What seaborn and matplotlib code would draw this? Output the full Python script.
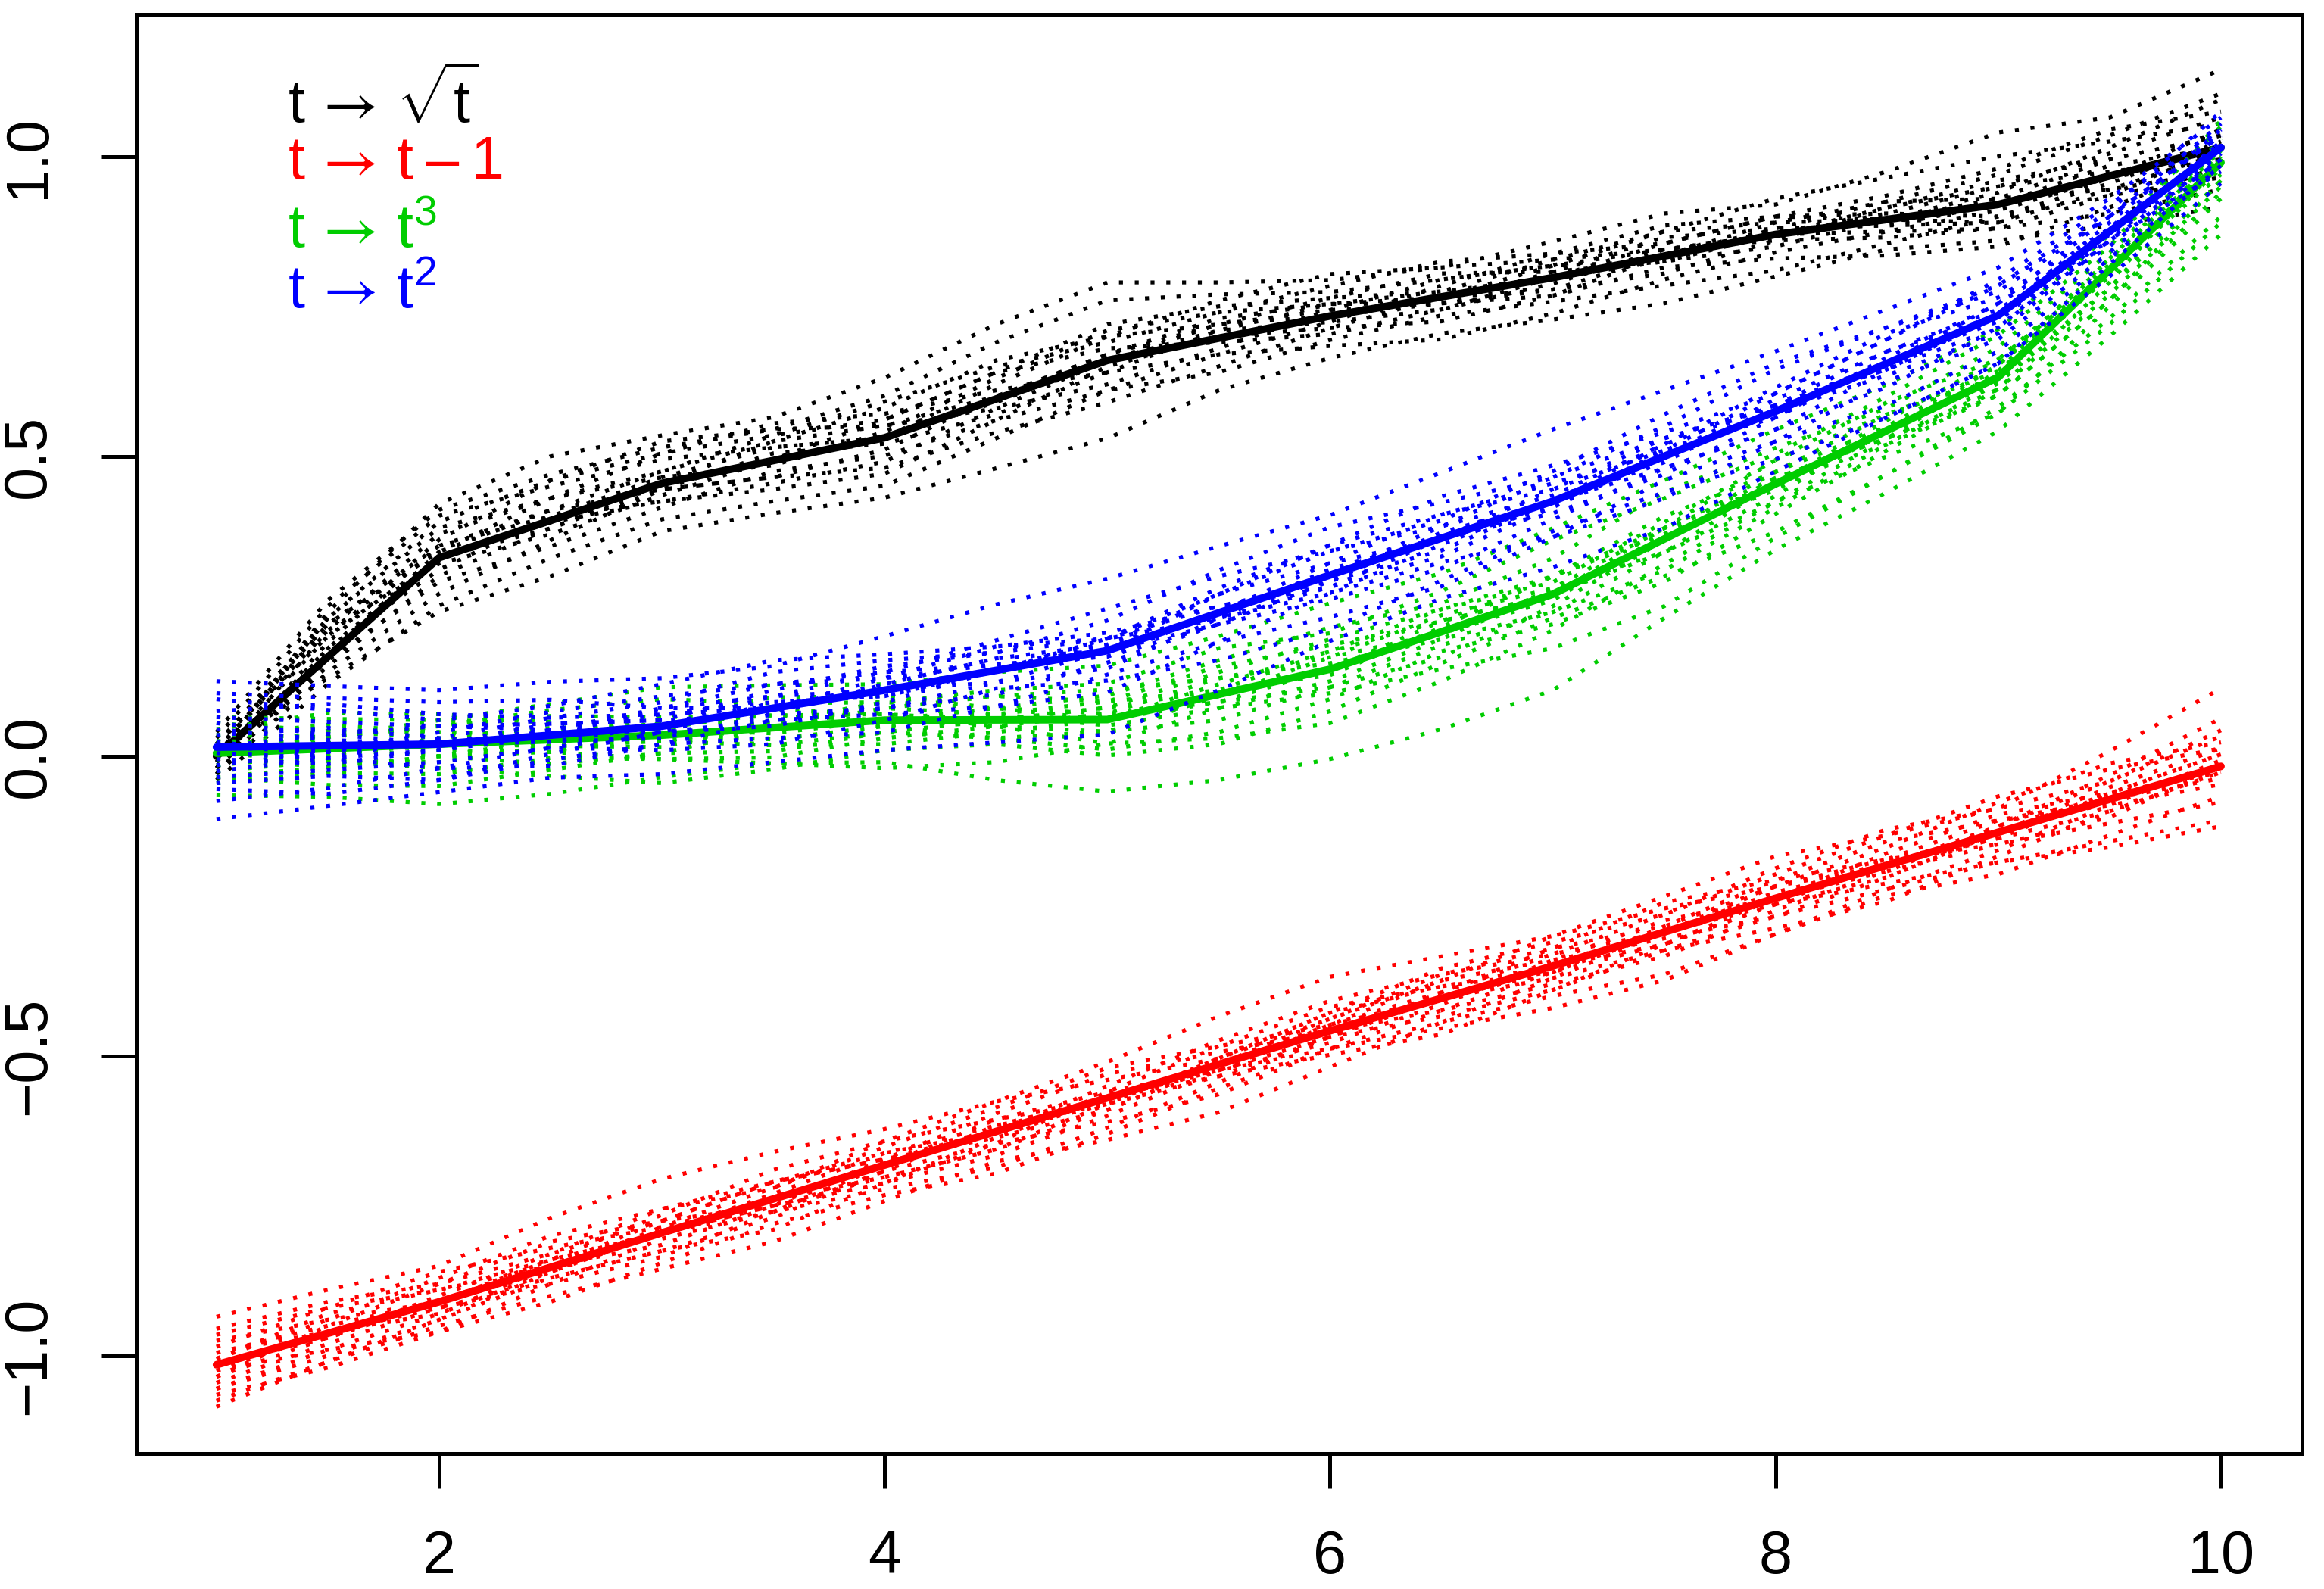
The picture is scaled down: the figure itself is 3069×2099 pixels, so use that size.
import numpy as np
import pandas as pd
import matplotlib
matplotlib.use("Agg")
import matplotlib.pyplot as plt
import seaborn as sns

# ---------------- data ----------------
t = [1, 2, 3, 4, 5, 6, 7, 8, 9, 10]
t_half = [1, 1.5, 2, 2.5, 3, 3.5, 4, 4.5, 5, 5.5, 6, 6.5, 7, 7.5, 8, 8.5, 9, 9.5, 10]

mean_sqrt = [0.0, 0.331, 0.455, 0.531, 0.66, 0.734, 0.798, 0.87, 0.92, 1.015]
mean_lin = [-1.015, -0.91, -0.795, -0.682, -0.57, -0.458, -0.35, -0.237, -0.127, -0.017]
mean_cube = [0.005, 0.02, 0.035, 0.06, 0.061, 0.145, 0.27, 0.454, 0.632, 0.99]
mean_sq = [0.015, 0.02, 0.05, 0.11, 0.176, 0.302, 0.425, 0.575, 0.735, 1.015]

# centre of each dotted band at half steps
band_sqrt = [0, .19, .331, .40, .455, .495, .531, .60, .66, .70, .734, .765, .798, .835, .87, .895, .92, .965, 1.015]
band_lin = [-1.015, -.96, -.91, -.85, -.795, -.74, -.682, -.626, -.57, -.514, -.458, -.404, -.35, -.294, -.237, -.182, -.127, -.072, -.017]
band_cube = [.005, .012, .02, .027, .035, .048, .06, .06, .061, .10, .145, .205, .27, .36, .454, .54, .632, .80, .99]
band_sq = [.015, .017, .02, .034, .05, .08, .11, .143, .176, .24, .302, .363, .425, .50, .575, .655, .735, .87, 1.015]

# deviations of the individual dotted curves from the band centre (hundredths)
dev_sqrt = [
    [0, 5, 9, 10, 8, 7, 10, 12, 13, 9, 6, 5, 6, 7, 5, 8, 12, 10, 13],
    [1, -6, -9, -10, -8, -9, -10, -12, -13, -9, -7, -6, -7, -8, -7, -5, -6, -8, -10],
    [2, 4, 5, 3, 2, 4, 6, 5, 3, 4, 5, 6, 4, 2, 3, 4, 6, 8, 6],
    [-2, -3, -4, -5, -4, -2, -3, -4, -5, -6, -4, -3, -4, -5, -6, -4, -2, -3, -5],
    [3, 6, 7, 5, 4, 2, 0, 2, 4, 6, 7, 5, 3, 1, 0, 2, 4, 3, 2],
    [-1, 2, -1, -3, -2, 0, 3, 4, 2, -1, -3, -2, 0, 2, 3, 1, -2, -1, 1],
    [0, -2, 1, 3, 5, 6, 4, 1, -2, -3, -1, 2, 4, 5, 3, 0, -3, 0, 3],
    [-3, -5, -6, -4, -1, 1, -1, -3, -2, 1, 2, 0, -2, -3, -1, 2, 3, 1, -2],
    [1, 3, 2, 0, -3, -5, -6, -4, -1, 0, -2, -4, -3, 0, 2, 3, 1, -2, -4],
    [4, 7, 8, 7, 6, 5, 7, 9, 10, 7, 4, 3, 2, 4, 6, 7, 8, 6, 4],
    [-2, 0, 2, 1, -1, -3, -2, 0, 1, 3, 2, -1, -3, -2, -4, -6, -7, -5, -3],
    [2, 1, 3, 6, 7, 5, 2, -2, -4, -2, 1, 3, 2, -1, -2, 0, 2, 5, 8],
    [-4, -7, -8, -7, -6, -7, -8, -7, -5, -3, -5, -7, -6, -4, -3, -2, -4, -6, -7],
    [0, 1, 0, -2, 0, 3, 2, 0, 1, 2, 0, -1, 1, 3, 1, -1, 0, 2, 0],
    [1, 2, 4, 3, 1, -1, 1, 3, 5, 4, 2, 1, 3, 4, 2, 0, 1, 3, 2],
    [-1, -1, -2, 0, 1, 2, 0, -1, 0, 2, 1, -1, -2, 0, 1, -1, -3, -2, -1],
    [2, 3, 1, 1, 2, 3, 5, 6, 4, 2, 3, 4, 1, -1, 0, 1, 3, 4, 5],
    [-3, -1, 0, -1, -3, -4, -4, -2, 0, 1, -1, -2, -1, 1, 0, -2, -1, 0, -2],
    [0, 4, 6, 6, 5, 4, 3, 4, 6, 5, 3, 1, 0, -1, 1, 3, 5, 7, 9],
    [-2, -4, -3, -2, -1, -3, -5, -6, -7, -5, -2, 0, 2, 1, -1, -3, -4, -3, 0],
]
dev_lin = [
    [8, 7, 6, 8, 9, 8, 6, 5, 6, 8, 9, 7, 5, 6, 7, 5, 4, 8, 13],
    [-6, -5, -4, -5, -6, -7, -6, -5, -7, -8, -6, -4, -5, -7, -6, -4, -5, -8, -10],
    [3, 4, 5, 3, 1, 2, 4, 5, 3, 1, 2, 4, 3, 1, 2, 3, 5, 6, 4],
    [-3, -2, -1, -3, -4, -2, -1, -2, -4, -5, -3, -2, -3, -4, -2, -1, -2, -4, -6],
    [1, 3, 2, 0, -2, -1, 1, 3, 4, 2, 0, -2, -1, 1, 3, 4, 2, 0, -2],
    [-1, -3, -2, 0, 2, 3, 1, -1, -2, 0, 2, 3, 1, -1, -3, -2, 0, 2, 3],
    [5, 4, 2, 1, 3, 5, 4, 2, 0, -1, 1, 3, 5, 4, 2, 0, 1, 3, 6],
    [-5, -6, -5, -3, -1, -2, -4, -6, -5, -3, -1, 0, -2, -3, -5, -6, -4, -2, -1],
    [2, 0, -2, -1, 1, 0, -2, -3, -1, 1, 3, 2, 0, -2, -1, 1, 2, -1, -3],
    [-2, 1, 3, 4, 2, -1, -3, -2, 1, 3, 4, 2, -1, 0, 2, 1, -2, -3, 0],
    [0, -1, 1, 2, 4, 3, 1, 0, 2, 4, 5, 4, 2, 3, 5, 6, 4, 3, 5],
    [-4, -3, -5, -6, -5, -4, -5, -7, -6, -4, -3, -5, -7, -8, -6, -5, -7, -6, -5],
    [4, 2, 0, 1, 0, -2, 0, 2, 1, -1, -2, -1, 1, 2, 0, -1, 1, 4, 8],
    [-7, -5, -3, -2, -3, -5, -3, -1, 0, -2, -4, -6, -4, -2, -1, -3, -5, -7, -9],
    [2, 1, 0, -1, 0, 1, 2, 1, -1, -2, -1, 1, 2, 0, -1, -2, 0, 1, 2],
    [-2, -1, 0, 1, 0, -1, -2, -3, -2, 0, 1, 0, -1, -2, 0, 2, 3, 1, -1],
    [6, 5, 3, 2, 2, 3, 2, 0, -1, 1, 3, 5, 4, 3, 4, 5, 6, 5, 3],
    [-4, -4, -3, -1, 0, -1, -3, -4, -3, -1, -1, -3, -4, -3, -3, -4, -3, -1, 1],
    [1, 2, 4, 5, 4, 2, 3, 4, 5, 3, 1, 1, 3, 5, 3, 1, -1, -2, -1],
    [-1, 0, -1, -2, -3, -3, -1, 1, 0, -1, -3, -4, -2, 0, 1, 0, -1, 1, 2],
]
dev_cube = [
    [6, 5, 4, 6, 8, 7, 6, 8, 9, 10, 11, 10, 11, 10, 9, 8, 8, 7, 6],
    [-7, -8, -10, -9, -7, -6, -7, -10, -12, -14, -15, -16, -16, -13, -11, -10, -9, -10, -12],
    [3, 4, 2, 1, 3, 5, 4, 2, 4, 6, 7, 5, 6, 8, 6, 4, 5, 4, 3],
    [-3, -2, -4, -6, -8, -7, -5, -4, -6, -8, -7, -5, -4, -6, -8, -7, -6, -5, -6],
    [1, 2, 4, 3, 1, -1, 0, 2, 1, -1, 0, 2, 3, 1, -1, 0, 2, 1, -1],
    [-1, -3, -2, 0, 2, 1, -1, -3, -2, 0, 2, 3, 1, -2, -3, -1, 1, 3, 2],
    [4, 6, 5, 3, 0, -2, -1, 1, 3, 5, 4, 2, 0, 2, 4, 5, 3, 1, -2],
    [-5, -4, -5, -3, -4, -6, -8, -7, -4, -2, -4, -6, -9, -11, -9, -7, -5, -7, -9],
    [2, 0, -2, -4, -3, 0, 2, 4, 5, 3, 1, -1, -3, -2, 0, 2, 3, 2, 4],
    [0, 2, 3, 5, 6, 4, 3, 5, 6, 8, 6, 7, 9, 7, 5, 6, 7, 5, 7],
    [-2, -1, 1, 2, 0, -3, -4, -2, 0, -1, -3, -4, -2, 0, 1, -1, -3, -4, -5],
    [5, 3, 1, -1, -2, 1, 3, 2, 0, 2, 3, 4, 3, 4, 2, 3, 0, -2, -3],
    [-4, -6, -7, -5, -3, -4, -2, -3, -5, -6, -5, -3, -5, -7, -5, -3, -2, -3, -4],
    [0, 1, -1, -2, 1, 3, 1, -1, -4, -7, -9, -8, -6, -4, -3, -4, -6, -8, -10],
    [2, 1, 0, 1, 2, 2, 0, -1, 1, 3, 2, 0, -1, 1, 2, 1, -1, -2, 0],
    [-2, -1, 0, -1, -1, 0, 2, 1, -1, -2, -2, -1, 1, 2, 1, -1, -2, -1, 1],
    [3, 2, 3, 4, 3, 2, 1, 0, 2, 4, 5, 4, 2, 3, 4, 3, 1, 0, 2],
    [-4, -3, -2, -2, -4, -5, -3, -1, -2, -4, -3, -2, -3, -5, -4, -2, -3, -4, -3],
    [0, -2, -3, -1, 0, 1, 3, 4, 3, 1, -1, 1, 3, 2, 0, -2, -1, 1, 3],
    [1, 3, 2, 0, -1, -3, -2, 0, 2, 1, 3, 2, 0, -2, -2, 1, 2, 3, 1],
]
dev_sq = [
    [11, 10, 9, 9, 8, 7, 9, 11, 12, 11, 10, 11, 12, 11, 10, 9, 8, 6, 5],
    [-12, -10, -8, -7, -8, -9, -10, -12, -14, -13, -11, -10, -11, -12, -10, -9, -8, -7, -6],
    [6, 7, 5, 3, 4, 6, 5, 3, 5, 7, 8, 6, 4, 5, 7, 6, 4, 3, 2],
    [-6, -5, -6, -4, -3, -5, -7, -6, -4, -5, -7, -8, -6, -4, -5, -7, -6, -4, -3],
    [2, 3, 1, -1, 0, 2, 3, 1, -1, 0, 2, 4, 3, 1, -1, 0, 2, 3, 4],
    [-2, -3, -1, 1, 3, 2, 0, -2, -3, -1, 1, 0, -2, -3, -1, 1, 2, 0, -2],
    [8, 6, 4, 5, 7, 8, 6, 4, 2, 3, 5, 7, 6, 4, 3, 4, 6, 5, 3],
    [-9, -7, -4, -2, -4, -6, -5, -3, -5, -8, -9, -7, -5, -6, -8, -9, -8, -5, -3],
    [4, 2, 0, 2, 1, -1, -3, -2, 0, 3, 4, 2, 1, 2, 4, 5, 3, 1, 0],
    [-4, -2, 1, 3, 2, 0, 2, 4, 3, 1, -2, -3, -1, 1, 0, -2, -3, -1, 1],
    [0, -1, 2, 4, 5, 4, 3, 5, 7, 6, 4, 3, 5, 7, 8, 6, 5, 4, 6],
    [1, -2, -4, -5, -3, -2, -4, -6, -7, -5, -3, -4, -6, -7, -5, -3, -4, -3, -2],
    [-7, -8, -6, -3, -1, 1, -1, 0, 2, -1, -3, -1, 0, -2, -3, -1, 0, 2, 3],
    [9, 8, 7, 6, 3, 0, 1, 2, 0, -2, -1, 1, 0, -1, 1, 2, 1, -1, -4],
    [3, 1, 0, 1, 2, 1, -1, 0, 2, 1, -1, -2, 0, 2, 1, -1, -2, 0, 1],
    [-3, -1, 0, -1, -2, -1, 1, 2, 1, -1, -2, 0, 2, 3, 1, -1, 0, 1, -1],
    [5, 4, 3, 2, 1, 3, 4, 3, 2, 4, 5, 4, 2, 1, 3, 4, 5, 3, 2],
    [-5, -4, -3, -2, -1, -2, -3, -4, -2, -2, -4, -5, -3, -2, -3, -4, -2, -1, -2],
    [0, 2, 3, 1, -1, -3, -2, 0, 1, 3, 2, 0, -1, 0, 2, 2, 0, -2, -1],
    [-1, -2, -1, 0, 3, 4, 2, 1, -1, -2, 0, 2, 4, 3, 1, 0, -1, 1, 3],
]

labels = [r"$\mathrm{t}\,\mathsf{\rightarrow}\,\sqrt{\mathrm{t}}$",
          r"$\mathrm{t}\,\mathsf{\rightarrow}\,\mathrm{t}\,\mathsf{-}\,1$",
          r"$\mathrm{t}\,\mathsf{\rightarrow}\,\mathrm{t}^{3}$",
          r"$\mathrm{t}\,\mathsf{\rightarrow}\,\mathrm{t}^{2}$"]
label_y = [1.055, 0.963, 0.848, 0.747]
colors = ["#000000", "#FF0000", "#00CD00", "#0000FF"]

x_ticks = [2, 4, 6, 8, 10]
y_ticks = [-1.0, -0.5, 0.0, 0.5, 1.0]

# ---------------- style ----------------
sns.set_style("ticks")
plt.rcParams["font.family"] = ["Liberation Sans", "DejaVu Sans"]
plt.rcParams["mathtext.fontset"] = "custom"
plt.rcParams["mathtext.rm"] = "Liberation Sans"
plt.rcParams["mathtext.it"] = "Liberation Sans"
plt.rcParams["mathtext.bf"] = "Liberation Sans:bold"
plt.rcParams["mathtext.sf"] = "STIXGeneral"

fig = plt.figure(figsize=(3070 / 300, 2099 / 300), dpi=300)
ax = fig.add_axes([180 / 3070, 1 - 1920 / 2099, (3040 - 180) / 3070, (1920 - 19) / 2099])

groups = [
    ("sqrt", band_sqrt, dev_sqrt, mean_sqrt, colors[0]),
    ("lin", band_lin, dev_lin, mean_lin, colors[1]),
    ("cube", band_cube, dev_cube, mean_cube, colors[2]),
    ("sq", band_sq, dev_sq, mean_sq, colors[3]),
]

for name, band, devs, mean, col in groups:
    rows = []
    for i, d in enumerate(devs):
        for xv, c, dv in zip(t_half, band, d):
            rows.append((i, xv, c + dv / 100.0))
    df = pd.DataFrame(rows, columns=["curve", "x", "y"])
    sns.lineplot(data=df, x="x", y="y", units="curve", estimator=None,
                 color=col, lw=1.25, linestyle=(0, (1, 3)), ax=ax,
                 legend=False, sort=False)
    sns.lineplot(x=t, y=mean, color=col, lw=2.4, ax=ax, legend=False,
                 estimator=None, sort=False)

for lab, ly, col in zip(labels, label_y, colors):
    ax.text(1.32, ly, lab, color=col, fontsize=19, ha="left", va="baseline")

ax.set_xlim(0.64, 10.364)
ax.set_ylim(-1.163, 1.237)
ax.set_xticks(x_ticks, [str(v) for v in x_ticks])
ax.set_yticks(y_ticks, [f"{v:.1f}".replace("-", "\u2212") for v in y_ticks])
ax.set_xlabel("")
ax.set_ylabel("")

for sp in ax.spines.values():
    sp.set_visible(True)
    sp.set_linewidth(1.2)
    sp.set_color("black")

ax.tick_params(axis="both", direction="out", length=11, width=1.2,
               labelsize=19, colors="black")
ax.tick_params(axis="x", pad=13)
ax.tick_params(axis="y", pad=14)
for lbl in ax.get_yticklabels():
    lbl.set_rotation(90)
    lbl.set_va("center")
    lbl.set_ha("right")

fig.savefig("out.png", dpi=300, facecolor="white")
